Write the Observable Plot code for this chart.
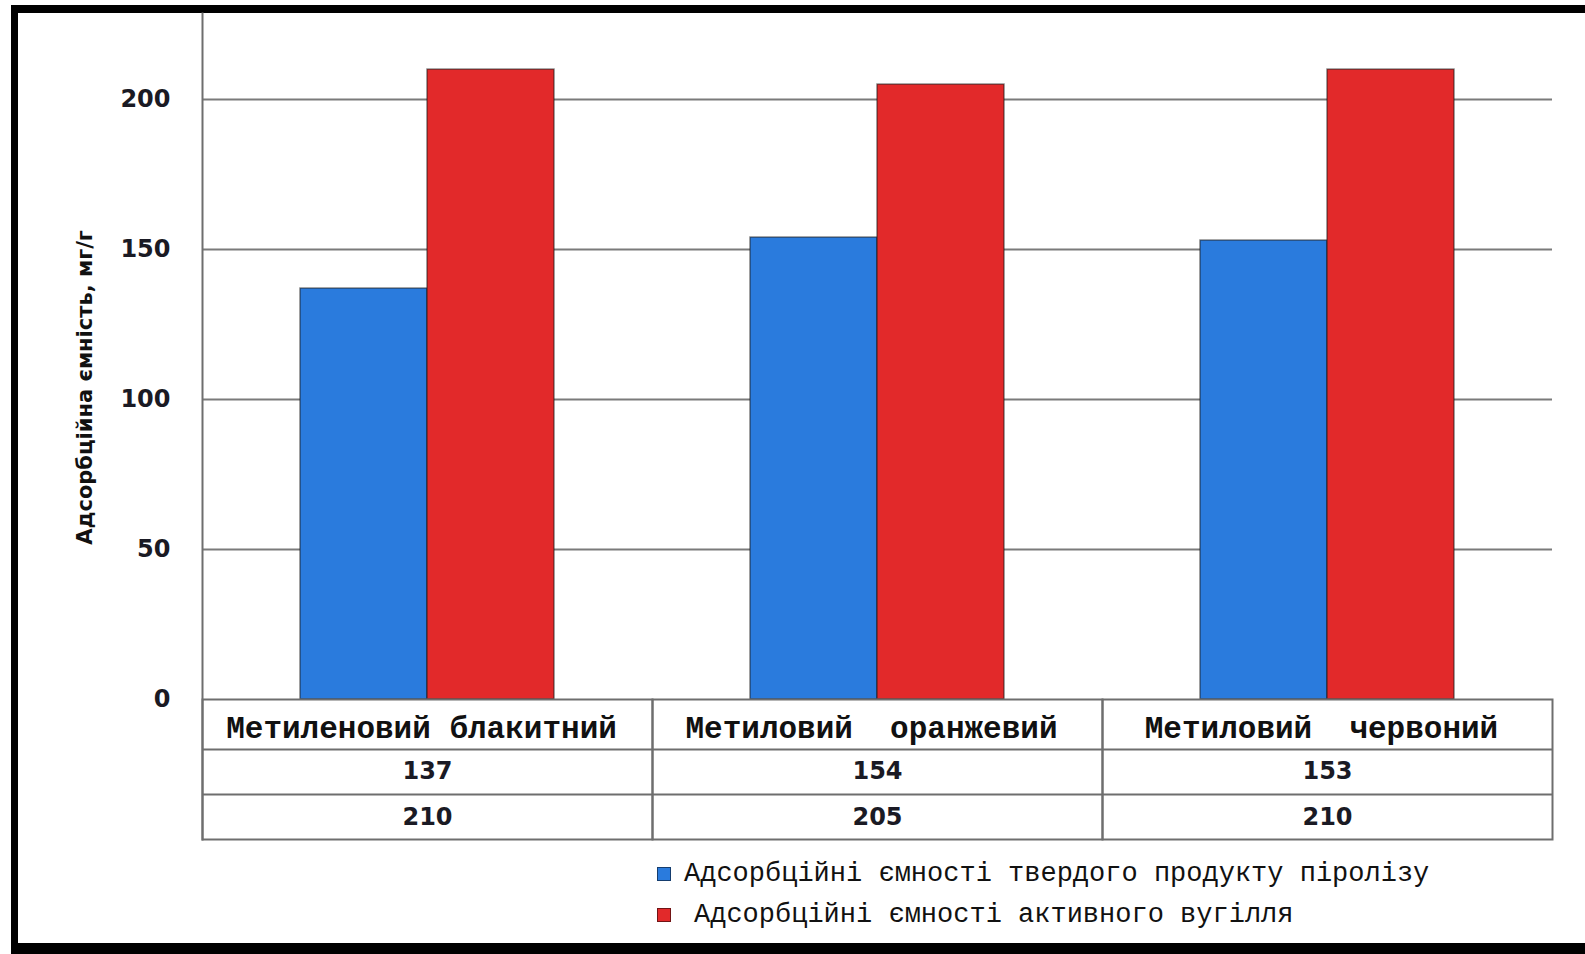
<!DOCTYPE html>
<html><head><meta charset="utf-8">
<script src="https://cdn.jsdelivr.net/npm/d3@7"></script>
<script src="https://cdn.jsdelivr.net/npm/@observablehq/plot@0.6"></script>
<style>
html,body{margin:0;padding:0;background:#fff;}
#wrap{position:relative;width:1585px;height:954px;overflow:hidden;background:#fff;}
#border{position:absolute;left:11px;top:5px;width:1574px;height:949px;box-sizing:border-box;border-top:8px solid #000;border-left:7px solid #000;border-bottom:11px solid #000;}
#chart{position:absolute;left:0;top:0;}
#chart svg text{white-space:pre;}
#legend{position:absolute;left:657px;top:853px;font-family:"Liberation Mono",monospace;font-size:27px;color:#111;}
#legend .item{display:flex;align-items:center;height:41px;white-space:pre;}
#legend .sw{width:14px;height:14px;box-sizing:border-box;border:1px solid rgba(0,0,0,0.5);flex:none;}
#legend .item span{margin-left:13px;}
#legend .item:nth-child(2) span{margin-left:23px;}
</style></head><body>
<div id="wrap"><div id="border"></div><div id="chart"></div><div id="legend"></div></div>
<script>
const categories = ["Метиленовий блакитний", "Метиловий  оранжевий", "Метиловий  червоний"];
const series = ["Адсорбційні ємності твердого продукту піролізу", "Адсорбційні ємності активного вугілля"];
const solidProduct = [137, 154, 153];
const activeCarbon = [210, 205, 210];
const yTicks = [0, 50, 100, 150, 200];
const yMax = 228.7;
const colors = ["#2a7bdd", "#e2292a"];
const yLabel = "Адсорбційна ємність, мг/г";

const data = categories.flatMap((c, i) => [
  {cat: c, series: series[0], value: solidProduct[i]},
  {cat: c, series: series[1], value: activeCarbon[i]}
]);
const row1 = data.filter(d => d.series === series[0]);
const row2 = data.filter(d => d.series === series[1]);

const lineColor = "#6e6e6e";
const numFont = {fontFamily: "DejaVu Sans", fontWeight: "bold", fontSize: 24, fill: "#1a1a24"};

const plot = Plot.plot({
  width: 1585,
  height: 850,
  marginTop: 13,
  marginLeft: 202,
  marginRight: 33,
  marginBottom: 151,
  style: {background: "transparent", fontFamily: "DejaVu Sans"},
  fx: {domain: categories, padding: 0, axis: null},
  x: {domain: series, paddingInner: 0, paddingOuter: 0.758, axis: null},
  y: {domain: [0, yMax], axis: null, label: null},
  color: {domain: series, range: colors},
  marks: [
    Plot.gridY(yTicks.slice(1), {stroke: "#7a7a7a", strokeOpacity: 1, strokeWidth: 2}),
    Plot.barY(data, {fx: "cat", x: "series", y: "value", fill: "series", stroke: "#1a1a1a", strokeOpacity: 0.55, strokeWidth: 1.5}),
    // data table below the plot
    Plot.frame({insetTop: 686, insetBottom: -140, stroke: lineColor, strokeWidth: 2}),
    Plot.ruleY([0], {dy: 50, stroke: lineColor, strokeWidth: 2}),
    Plot.ruleY([0], {dy: 95, stroke: lineColor, strokeWidth: 2}),
    Plot.frame({anchor: "left", facetAnchor: "left", insetBottom: -140, stroke: lineColor, strokeWidth: 2}),
    Plot.text(categories, {fx: d => d, text: d => d, frameAnchor: "bottom", dy: 29, dx: -6, lineAnchor: "middle",
      fontFamily: "Liberation Mono", fontWeight: "bold", fontSize: 31, fill: "#111"}),
    Plot.text(row1, {fx: "cat", text: d => String(d.value), frameAnchor: "bottom", dy: 72, lineAnchor: "middle", ...numFont}),
    Plot.text(row2, {fx: "cat", text: d => String(d.value), frameAnchor: "bottom", dy: 118, lineAnchor: "middle", ...numFont}),
    // y axis
    Plot.axisY(yTicks, {tickSize: 0, tickPadding: 32, label: null, ...numFont}),
    Plot.text([yLabel], {frameAnchor: "left", facetAnchor: "left", rotate: -90, dx: -117, dy: 31,
      lineAnchor: "middle", textAnchor: "middle", fontFamily: "DejaVu Sans", fontWeight: "bold", fontSize: 21, fill: "#111"})
  ]
});
document.getElementById("chart").appendChild(plot);

// legend from the plot's colour scale
const cs = plot.scale("color");
const legend = document.getElementById("legend");
cs.domain.forEach((name, i) => {
  const item = document.createElement("div");
  item.className = "item";
  const sw = document.createElement("div");
  sw.className = "sw";
  sw.style.background = cs.range[i];
  const t = document.createElement("span");
  t.textContent = name;
  item.appendChild(sw);
  item.appendChild(t);
  legend.appendChild(item);
});
</script>
</body></html>
